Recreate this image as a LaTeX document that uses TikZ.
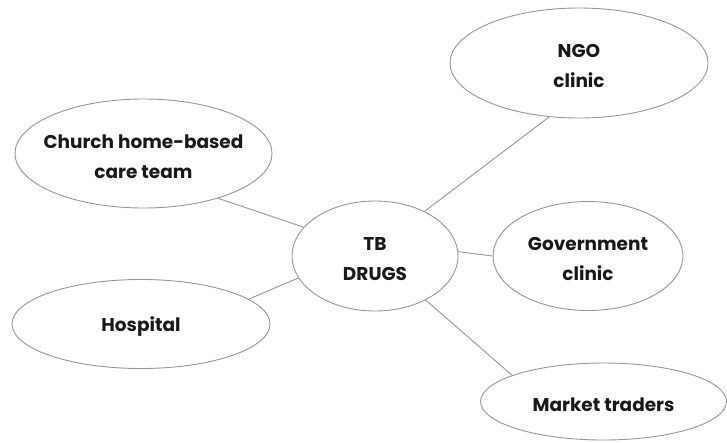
\documentclass[tikz,border=0pt]{standalone}
\usepackage{fontspec}
\setmainfont{Poppins}
\usetikzlibrary{shapes.geometric}
\definecolor{edgegray}{RGB}{150,150,150}
\definecolor{inkblack}{RGB}{25,25,25}
\tikzset{
  bubble/.style={ellipse, draw=edgegray, line width=0.9pt, inner sep=0pt},
  caption/.style={align=center, text=inkblack, inner sep=0pt, yshift=-3pt,
    font=\fontsize{18.5}{30}\selectfont\bfseries},
  link/.style={draw=edgegray, line width=0.9pt}
}
\begin{document}
\begin{tikzpicture}[x=1pt,y=-1pt]
  \useasboundingbox (0,0) rectangle (727,442);
  % central node
  \node[bubble, minimum width=166pt, minimum height=110pt,
    label={[caption]center:TB\\DRUGS}] (tb) at (375,256) {};
  % surrounding providers
  \node[bubble, minimum width=257pt, minimum height=109pt,
    label={[caption]center:Church home-based\\care team}] (church) at (143.5,153.5) {};
  \node[bubble, minimum width=258pt, minimum height=89pt,
    label={[caption]center:Hospital}] (hosp) at (141,324) {};
  \node[bubble, minimum width=258pt, minimum height=110pt,
    label={[caption]center:NGO\\clinic}] (ngo) at (579,63) {};
  \node[bubble, minimum width=190pt, minimum height=109pt,
    label={[caption]center:Government\\clinic}] (gov) at (588,256) {};
  \node[bubble, minimum width=246pt, minimum height=77pt,
    label={[caption]center:Market traders}] (market) at (603.5,401.5) {};
  % connectors
  \draw[link] (church.-31) -- (tb.158);
  \draw[link] (hosp.13) -- (tb.-164);
  \draw[link] (ngo.-119) -- (tb.42);
  \draw[link] (gov.180) -- (tb.3);
  \draw[link] (market.164) -- (tb.-41);
\end{tikzpicture}
\end{document}
